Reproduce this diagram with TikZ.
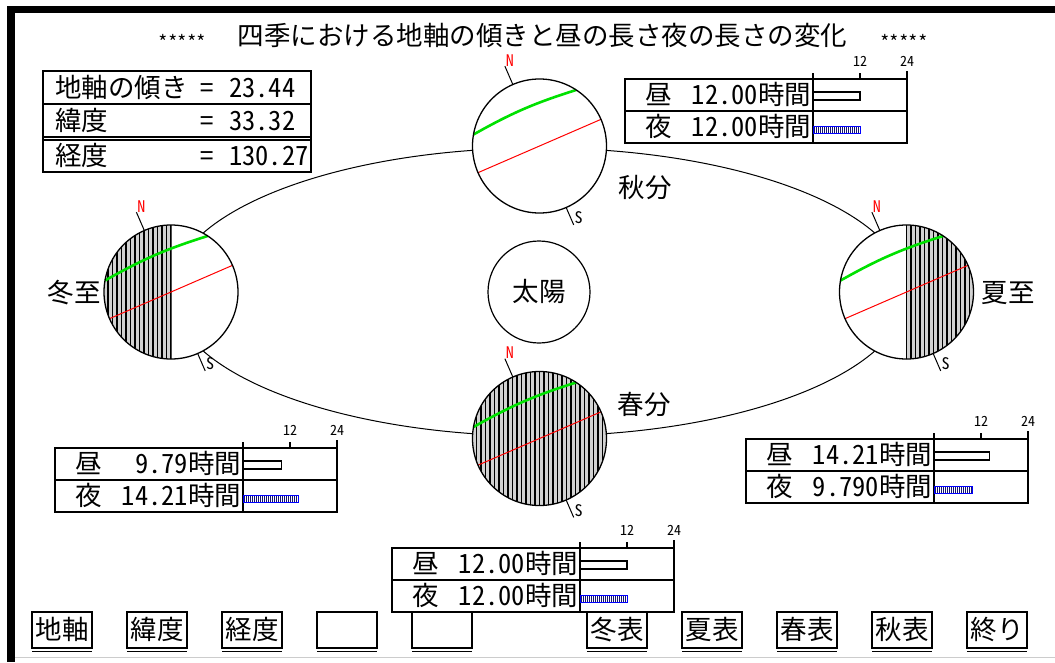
\documentclass[tikz,border=0pt]{standalone}
\usepackage{fontspec}
\setmainfont{Noto Sans CJK JP}[RawFeature=+hwid]
\usetikzlibrary{positioning}
\definecolor{axisred}{RGB}{255,0,0}
\definecolor{latgreen}{RGB}{0,225,0}
\definecolor{barblue}{RGB}{0,0,255}
\definecolor{barnavy}{RGB}{20,20,110}
\tikzset{every node/.style={inner sep=0pt, outer sep=0pt}}
\tikzset{jp/.style={font=\fontsize{26.5}{26.5}\selectfont, text height=22pt, text depth=3pt}}
\tikzset{tiny/.style={font=\fontsize{14}{14}\selectfont, text height=10pt, text depth=0pt}}
\tikzset{pole/.style={font=\fontsize{16}{16}\selectfont, text height=11pt, text depth=0pt}}
\tikzset{boxline/.style={line width=1.2pt}}
\tikzset{orbit/.style={line width=1pt}}
\tikzset{hatch/.style={line width=1.1pt}}
\tikzset{btn/.style={draw, line width=1.2pt, minimum width=60pt, minimum height=36pt, jp}}
% earth with axis, equator and latitude circle; #1,#2 = x range of the night side
\tikzset{
  pics/globe/.style 2 args={code={
    \fill[white] (0,0) circle (67);
    \begin{scope}
      \clip (0,0) circle (67);
      \clip (#1,-68) rectangle (#2,68);
      \fill[gray!35] (#1,-68) rectangle (#2,68);
      \foreach \x in {0,4.5,...,67} \draw[hatch] (\x,-68) -- (\x,68);
      \foreach \x in {-4.5,-9,...,-67} \draw[hatch] (\x,-68) -- (\x,68);
    \end{scope}
    \coordinate (-nbase) at (246.56:67);
    \coordinate (-ntip) at (246.56:87);
    \coordinate (-sbase) at (66.56:67);
    \coordinate (-stip) at (66.56:86);
    \draw[axisred, line width=1pt] (156.56:67) -- (336.56:67);
    \draw[latgreen, line width=2.6pt] (-66.02,-11.48) to[bend left=6] (36.74,-56.04);
    \draw[line width=1.3pt] (0,0) circle (67);
    \draw[line width=1pt] (-nbase) -- (-ntip);
    \draw[line width=1pt] (-sbase) -- (-stip);
    \node[pole, text=axisred, anchor=south west] (-n) at ([xshift=1pt]-ntip) {N};
    \node[pole, anchor=south west] (-s) at ([xshift=1pt,yshift=1pt]-stip) {S};
  }},
  % day / night length table with bars
  pics/hourbox/.style n args={4}{code={
    \draw[boxline] (0,0) rectangle (282,64);
    \draw[boxline] (0,32) -- (282,32);
    \draw[boxline] (188,-6) -- (188,64);
    \draw[boxline] (235,-6) -- (235,0);
    \draw[boxline] (282,-8) -- (282,0);
    \node[tiny] (-t12) at (235,-18) {12};
    \node[tiny] (-t24) at (282,-18) {24};
    \node[jp, anchor=west] (-dayk) at (20,16) {昼};
    \node[jp, anchor=east] (-dayv) at (186,16) {#1時間};
    \node[jp, anchor=west] (-nightk) at (20,48) {夜};
    \node[jp, anchor=east] (-nightv) at (186,48) {#2時間};
    \draw[line width=1.2pt, fill=white] (188,13) rectangle ++({3.92*#3},8);
    \begin{scope}
      \clip (188,47) rectangle ++({3.92*#4},7);
      \foreach \x in {189.5,191.5,...,250} \draw[barnavy, line width=1pt] (\x,47) -- (\x,54);
    \end{scope}
    \draw[barblue, line width=1pt] (188,47) rectangle ++({3.92*#4},7);
  }}
}

\begin{document}
\begin{tikzpicture}[x=1pt, y=-1pt]
    \useasboundingbox (0,0) rectangle (1055,662);
    % window frame
    \fill (10,6) rectangle (1055,13);
    \fill (7,6) rectangle (15,662);
    \draw[gray!40, line width=1pt] (15,657.5) -- (1055,657.5);

    % title
    \node[jp] (title) at (542.5,36) {四季における地軸の傾きと昼の長さ夜の長さの変化};
    \node[font=\fontsize{19}{19}\selectfont, anchor=east] (starl) at (206,42) {*****};
    \node[font=\fontsize{19}{19}\selectfont, anchor=west] (starr) at (880,42) {*****};

    % parameters
    \draw[boxline] (43,71) rectangle (311,172);
    \draw[boxline] (43,104) -- (311,104);
    \draw[boxline] (43,137) -- (311,137);
    \draw[boxline] (43,140) -- (311,140);
    \node[jp, anchor=west] (tiltk) at (55,88) {地軸の傾き};
    \node[jp] (tilteq) at (207,88) {=};
    \node[jp, anchor=west] (tiltv) at (229,88) {23.44};
    \node[jp, anchor=west] (latk) at (55,121) {緯度};
    \node[jp] (lateq) at (207,121) {=};
    \node[jp, anchor=west] (latv) at (229,121) {33.32};
    \node[jp, anchor=west] (lonk) at (55,156) {経度};
    \node[jp] (loneq) at (207,156) {=};
    \node[jp, anchor=west] (lonv) at (229,156) {130.27};

    % orbit and sun
    \draw[orbit] (539,292) ellipse [x radius=368, y radius=144];
    \node[draw, circle, line width=1.2pt, minimum size=102pt, jp] (sun) at (539,292) {太陽};

    % the four seasons
    \pic (aut) at (539.5,146) {globe={80}{90}};
    \pic (win) at (171,292) {globe={-68}{0.6}};
    \pic (sum) at (906.5,292) {globe={-0.6}{68}};
    \pic (spr) at (539.5,438.5) {globe={-68}{68}};
    \node[jp] (autlbl) at (645,188) {秋分};
    \node[jp] (winlbl) at (74,293) {冬至};
    \node[jp] (sumlbl) at (1008,293) {夏至};
    \node[jp] (sprlbl) at (644,405) {春分};

    \pic (auttab) at (625,79) {hourbox={12.00}{12.00}{12}{12}};
    \pic (wintab) at (55,448) {hourbox={9.79}{14.21}{9.79}{14.21}};
    \pic (sumtab) at (746,439) {hourbox={14.21}{9.790}{14.21}{9.79}};
    \pic (sprtab) at (392,548) {hourbox={12.00}{12.00}{12}{12}};

    % buttons
    \foreach \bx/\bt [count=\i] in {62/地軸, 157/緯度, 252/経度, 347/{}, 442/{},
        617/冬表, 712/夏表, 807/春表, 902/秋表, 997/終り} {
      \node[btn] (btn\i) at (\bx,630) {\bt};
      \draw[line width=1pt] ([yshift=-3pt]btn\i.south west) -- ([yshift=-3pt]btn\i.south east);
    }
\end{tikzpicture}
\end{document}
